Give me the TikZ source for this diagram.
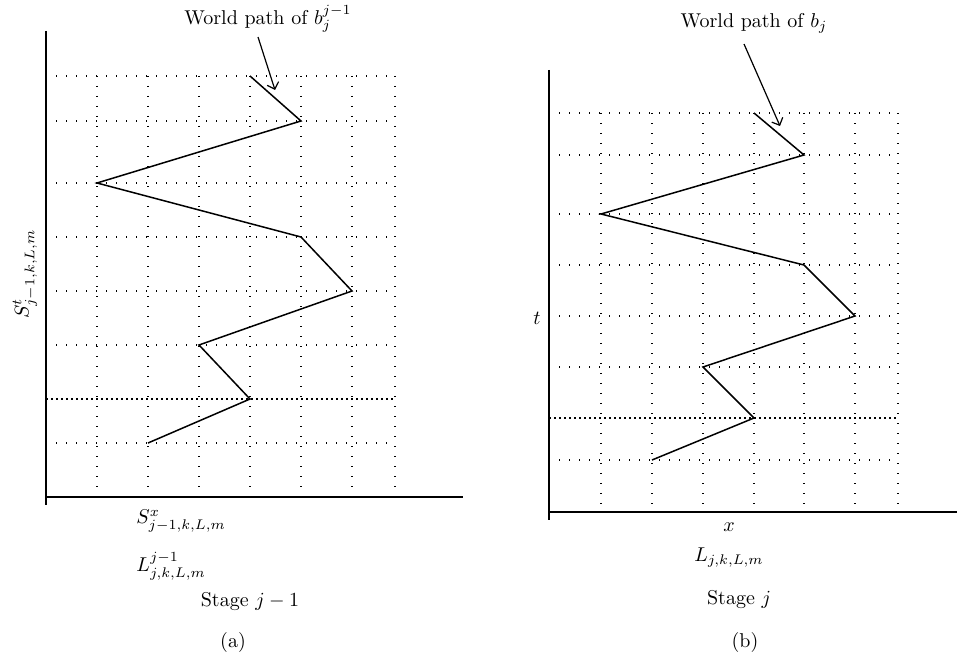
\documentclass[tikz,border=0pt]{standalone}
\usetikzlibrary{arrows.meta}

\begin{document}
\begin{tikzpicture}[
  x=0.5pt,y=-0.5pt,
  axis/.style={line width=1pt},
  gridline/.style={line width=0.6pt,dash pattern=on 0.6pt off 4.4pt},
  thickgrid/.style={line width=0.9pt,dash pattern=on 0.9pt off 1.6pt},
  walk/.style={line width=0.75pt,line join=miter},
  pointer/.style={-{Straight Barb[length=3pt,width=6pt]},line width=0.6pt},
  lbl/.style={inner sep=0pt}
]
\useasboundingbox (0,0) rectangle (957,658);

% panel (a)
\foreach \y in {76,121,183,237,291,345,443}
  \draw[gridline] (46,\y) -- (395,\y);
\draw[thickgrid] (46,399) -- (395,399);
\foreach \x in {97,148,199,250,301,352,395}
  \draw[gridline] (\x,76) -- (\x,497);
\draw[axis] (46,31) -- (46,505);
\draw[axis] (46,497) -- (463,497);
\draw[walk] (250,76) -- (301,121) -- (97,183) -- (301,237) -- (352,291)
  -- (199,345) -- (250,399) -- (148,443);
\node[lbl] (wpa) at (268,19) {World path of $b_j^{j-1}$};
\coordinate (pa1) at (258,37);
\coordinate (pa2) at (275,90);
\draw[pointer] (pa1) -- (pa2);
\node[lbl,rotate=90] (sta) at (25,274) {$S^t_{j-1,k,L,m}$};
\node[lbl,anchor=west] (sxa) at (136,521) {$S^x_{j-1,k,L,m}$};
\node[lbl,anchor=west] (lja) at (136,566) {$L^{j-1}_{j,k,L,m}$};
\node[lbl] (stga) at (250,602) {Stage $j-1$};
\node[lbl] (capa) at (233,642) {(a)};

% panel (b)
\foreach \y in {113,155,214,265,316,367,460}
  \draw[gridline] (549,\y) -- (898,\y);
\draw[thickgrid] (549,418) -- (898,418);
\foreach \x in {601,652,703,754,804,855,898}
  \draw[gridline] (\x,113) -- (\x,512);
\draw[axis] (549,70) -- (549,520);
\draw[axis] (549,512) -- (957,512);
\draw[walk] (754,113) -- (804,155) -- (601,214) -- (804,265) -- (855,316)
  -- (703,367) -- (754,418) -- (652,460);
\node[lbl] (wpb) at (754,23) {World path of $b_j$};
\coordinate (pb1) at (744,44);
\coordinate (pb2) at (780,126);
\draw[pointer] (pb1) -- (pb2);
\node[lbl] (tb) at (537,318) {$t$};
\node[lbl] (xb) at (729,527) {$x$};
\node[lbl] (ljb) at (729,558) {$L_{j,k,L,m}$};
\node[lbl] (stgb) at (739,600) {Stage $j$};
\node[lbl] (capb) at (745,642) {(b)};
\end{tikzpicture}
\end{document}
